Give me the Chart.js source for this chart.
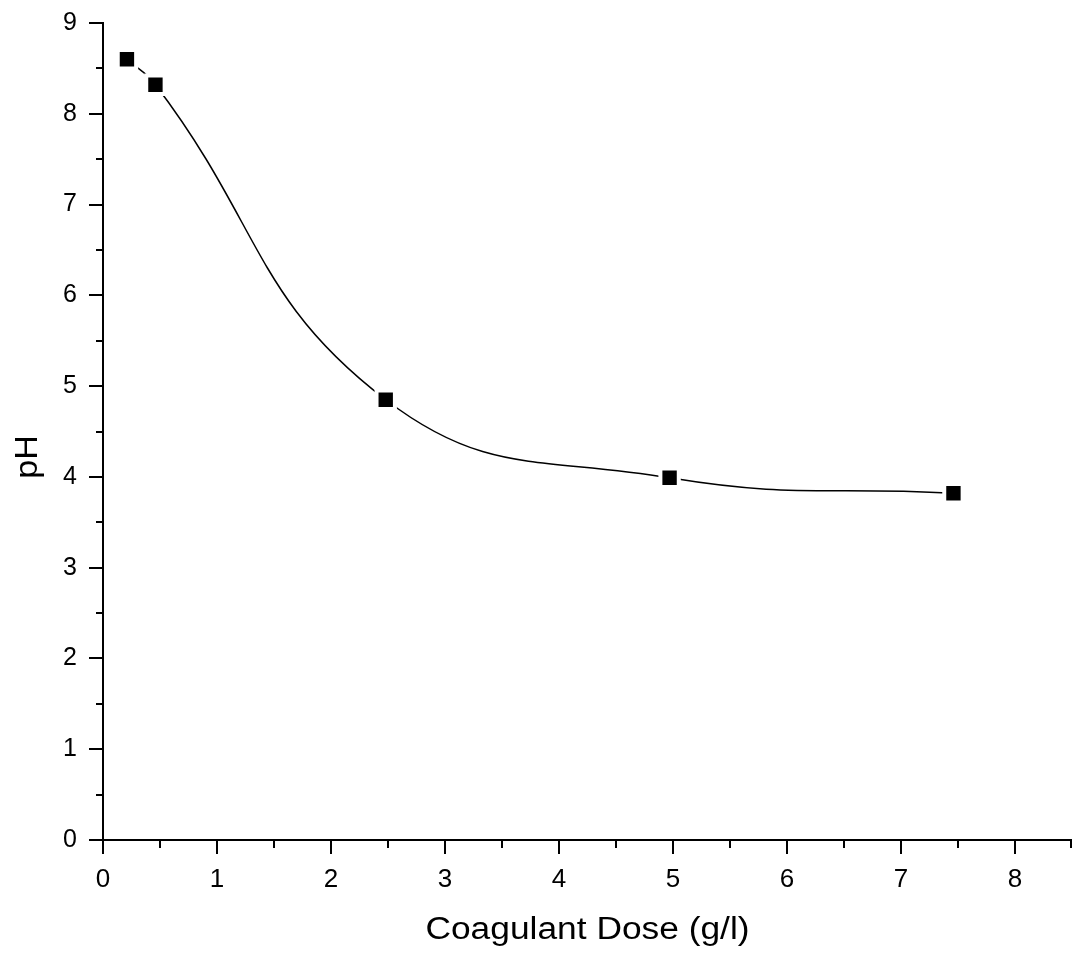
<!DOCTYPE html>
<html>
<head>
<meta charset="utf-8">
<script src="https://cdn.jsdelivr.net/npm/chart.js@4/dist/chart.umd.min.js"></script>
<style>
  html, body { margin: 0; padding: 0; background: #fff; overflow: hidden; }
  #wrap { width: 1072px; height: 961px; position: relative; }
  #chart { display: block; }
</style>
</head>
<body>
<div id="wrap"><canvas id="chart"></canvas></div>
<script>
// values
var doses = [0.21, 0.46, 2.48, 4.97, 7.46];
var phValues = [8.60, 8.32, 4.85, 3.99, 3.82];
var xMax = 8.5;
var yMax = 9;
var xTitle = "Coagulant Dose (g/l)";
var yTitle = "pH";

var FONT = "'Liberation Sans', Arial, sans-serif";

function tickLabel(v) {
    return (Math.abs(v - Math.round(v)) < 1e-6) ? String(Math.round(v)) : "";
}

// no extra room for edge labels, the plot runs to the page edge
function noPad(s) {
    s.paddingLeft = 0; s.paddingRight = 0;
    s.paddingTop = 0; s.paddingBottom = 0;
}

// outward tick marks, long on integers, short on halves, plus axis titles
var tickMarks = {
    id: "tickMarks",
    afterDraw: function(chart) {
        var ctx = chart.ctx;
        var xs = chart.scales.x, ys = chart.scales.y;
        ctx.save();
        ctx.strokeStyle = "#000";
        ctx.lineWidth = 2;
        ctx.beginPath();
        xs.ticks.forEach(function(t) {
            var px = Math.round(xs.getPixelForValue(t.value));
            var len = tickLabel(t.value) === "" ? 8 : 14;
            if (px >= chart.width - 1) px = chart.width - 1;
            ctx.moveTo(px, xs.top);
            ctx.lineTo(px, xs.top + len);
        });
        ys.ticks.forEach(function(t) {
            var py = Math.round(ys.getPixelForValue(t.value));
            var len = tickLabel(t.value) === "" ? 7 : 14;
            ctx.moveTo(ys.right, py);
            ctx.lineTo(ys.right - len, py);
        });
        ctx.stroke();

        ctx.fillStyle = "#000";
        ctx.font = "31px " + FONT;
        ctx.textAlign = "center";
        ctx.textBaseline = "middle";

        // x axis title (source is a little stretched sideways)
        ctx.save();
        ctx.translate((xs.left + xs.right) / 2, 930);
        ctx.scale(1.14, 1);
        ctx.fillText(xTitle, 0, 0);
        ctx.restore();

        // y axis title
        ctx.translate(28, 457);
        ctx.rotate(-Math.PI / 2);
        ctx.scale(1.1, 1);
        ctx.fillText(yTitle, 0, 0);
        ctx.restore();
    }
};

var points = doses.map(function(d, i) { return {x: d, y: phValues[i]}; });

new Chart(document.getElementById("chart"), {
    type: "line",
    data: {
        datasets: [{
            data: points,
            borderColor: "#000",
            borderWidth: 1.5,
            tension: 0.45,
            fill: false,
            pointStyle: "rect",
            pointRadius: 13,
            pointHoverRadius: 13,
            pointBackgroundColor: "#000",
            pointBorderColor: "#fff",
            pointBorderWidth: 4,
            pointHoverBorderWidth: 4
        }]
    },
    options: {
        responsive: true,
        maintainAspectRatio: false,
        animation: false,
        events: [],
        layout: { autoPadding: false, padding: { top: 23, right: 0, left: 0, bottom: 0 } },
        plugins: { legend: { display: false }, tooltip: { enabled: false } },
        scales: {
            x: {
                type: "linear",
                min: 0,
                max: xMax,
                afterFit: function(s) { s.height = 121; noPad(s); },
                grid: { display: false, drawTicks: false },
                border: { display: true, color: "#000", width: 2 },
                ticks: {
                    stepSize: 0.5,
                    autoSkip: false,
                    maxRotation: 0,
                    padding: 24,
                    color: "#000",
                    font: { family: FONT, size: 26 },
                    callback: tickLabel
                }
            },
            y: {
                type: "linear",
                min: 0,
                max: yMax,
                afterFit: function(s) { s.width = 103; noPad(s); },
                grid: { display: false, drawTicks: false },
                border: { display: true, color: "#000", width: 2 },
                ticks: {
                    stepSize: 0.5,
                    autoSkip: false,
                    padding: 26,
                    color: "#000",
                    font: { family: FONT, size: 25 },
                    callback: tickLabel
                }
            }
        }
    },
    plugins: [tickMarks]
});
</script>
</body>
</html>
